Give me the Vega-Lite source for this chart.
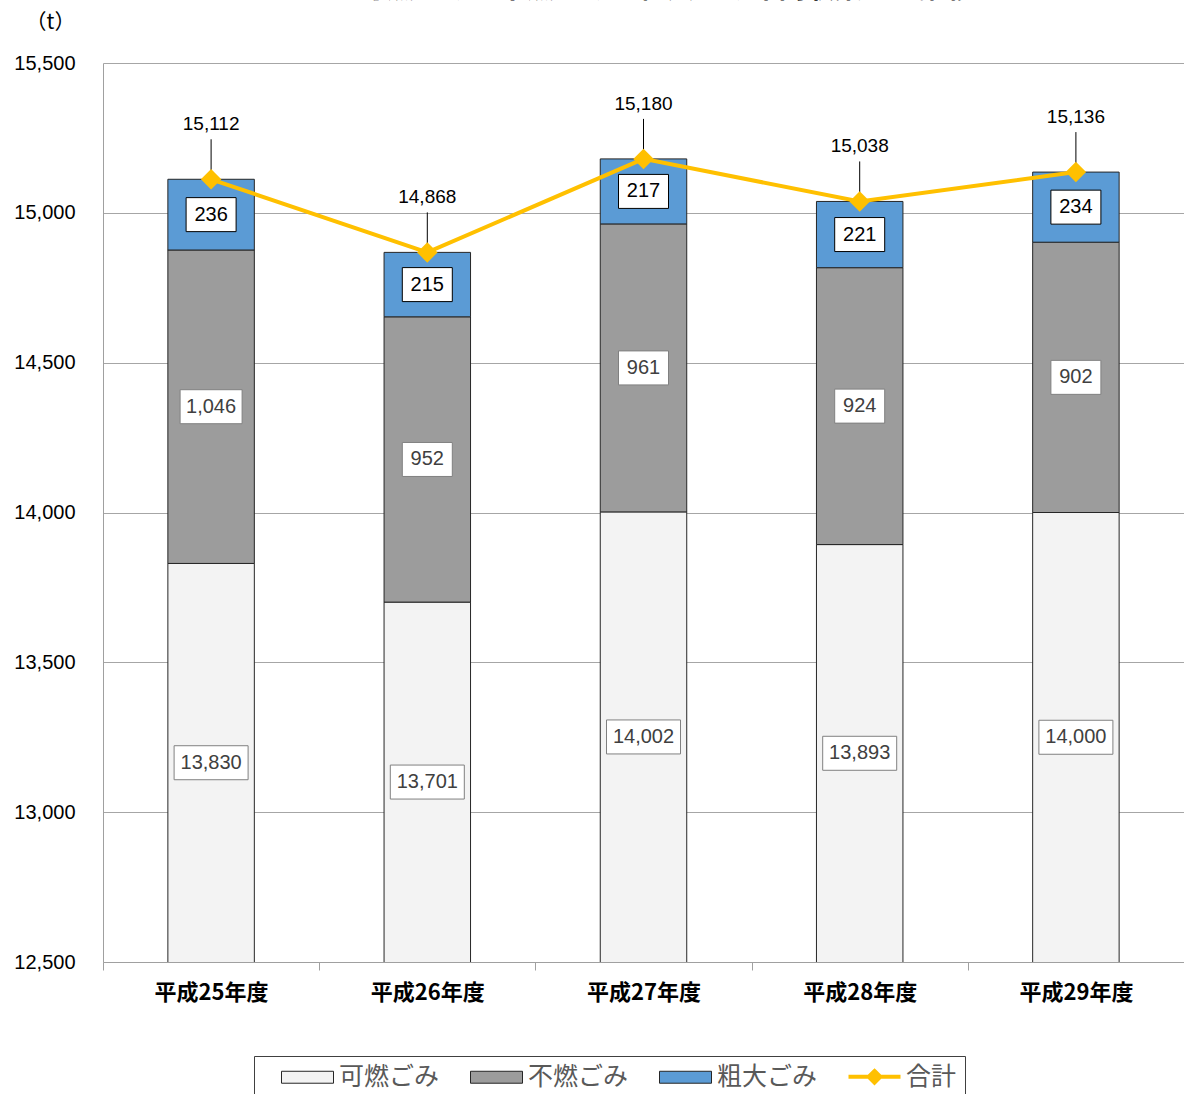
{
  "$schema": "https://vega.github.io/schema/vega-lite/v6.json",
  "width": 1081,
  "height": 899,
  "autosize": {"type": "none"},
  "padding": {"left": 103, "top": 63, "right": 0, "bottom": 132},
  "config": {"view": {"stroke": null}, "font": "Noto Sans CJK JP"},
  "title": {"text": "可燃ごみ・不燃ごみ・粗大ごみ年間収集量の推移", "fontSize": 28, "fontWeight": "bold", "color": "#000", "anchor": "middle", "frame": "group", "dx": 23, "offset": 7},
  "datasets": {
    "seg": [
      {"year": "平成25年度", "type": "可燃ごみ", "k": 1, "value": 13830},
      {"year": "平成25年度", "type": "不燃ごみ", "k": 2, "value": 1046},
      {"year": "平成25年度", "type": "粗大ごみ", "k": 3, "value": 236},
      {"year": "平成26年度", "type": "可燃ごみ", "k": 1, "value": 13701},
      {"year": "平成26年度", "type": "不燃ごみ", "k": 2, "value": 952},
      {"year": "平成26年度", "type": "粗大ごみ", "k": 3, "value": 215},
      {"year": "平成27年度", "type": "可燃ごみ", "k": 1, "value": 14002},
      {"year": "平成27年度", "type": "不燃ごみ", "k": 2, "value": 961},
      {"year": "平成27年度", "type": "粗大ごみ", "k": 3, "value": 217},
      {"year": "平成28年度", "type": "可燃ごみ", "k": 1, "value": 13893},
      {"year": "平成28年度", "type": "不燃ごみ", "k": 2, "value": 924},
      {"year": "平成28年度", "type": "粗大ごみ", "k": 3, "value": 221},
      {"year": "平成29年度", "type": "可燃ごみ", "k": 1, "value": 14000},
      {"year": "平成29年度", "type": "不燃ごみ", "k": 2, "value": 902},
      {"year": "平成29年度", "type": "粗大ごみ", "k": 3, "value": 234}
    ],
    "tot": [
      {"year": "平成25年度", "total": 15112},
      {"year": "平成26年度", "total": 14868},
      {"year": "平成27年度", "total": 15180},
      {"year": "平成28年度", "total": 15038},
      {"year": "平成29年度", "total": 15136}
    ]
  },
  "encoding": {
    "x": {
      "field": "year", "type": "nominal",
      "sort": ["平成25年度", "平成26年度", "平成27年度", "平成28年度", "平成29年度"],
      "scale": {"paddingInner": 0, "paddingOuter": 0},
      "axis": {"title": null, "labelAngle": 0, "labelFontSize": 22, "labelFontWeight": "bold", "labelColor": "#000", "labelPadding": 12, "tickBand": "extent", "tickColor": "#a0a0a0", "tickSize": 8, "domainColor": "#a0a0a0", "grid": false}
    }
  },
  "layer": [
    {
      "data": {"name": "seg"},
      "transform": [
        {"stack": "value", "groupby": ["year"], "sort": [{"field": "k", "order": "ascending"}], "as": ["v0", "v1"]},
        {"calculate": "(max(datum.v0, 12500) + datum.v1) / 2", "as": "mid"},
        {"calculate": "length(format(datum.value, ',')) <= 3 ? 'M-1.25,-0.85H1.25V0.85H-1.25Z' : (length(format(datum.value, ',')) <= 5 ? 'M-1.55,-0.85H1.55V0.85H-1.55Z' : 'M-1.85,-0.85H1.85V0.85H-1.85Z')", "as": "shp"}
      ],
      "layer": [
        {
          "mark": {"type": "bar", "width": {"band": 0.4}, "clip": true, "stroke": "#262626", "strokeWidth": 1},
          "encoding": {
            "y": {
              "field": "v0", "type": "quantitative",
              "scale": {"domain": [12500, 15500], "nice": false, "zero": false},
              "axis": {"title": "（t）", "titleAngle": 0, "titleX": -53, "titleY": -41, "titleAlign": "center", "titleBaseline": "middle", "titleFontSize": 21, "titleFontWeight": "normal", "titleColor": "#000", "values": [12500, 13000, 13500, 14000, 14500, 15000, 15500], "labelExpr": "format(datum.value, ',')", "labelFont": "Liberation Sans", "labelFontSize": 20, "labelColor": "#000", "labelPadding": 28, "ticks": false, "domainColor": "#a0a0a0", "gridColor": "#a6a6a6", "grid": true}
            },
            "y2": {"field": "v1"},
            "fill": {
              "field": "type", "type": "nominal",
              "scale": {"domain": ["可燃ごみ", "不燃ごみ", "粗大ごみ", "合計"], "range": ["#f3f3f3", "#9c9c9c", "#5b9bd5", "#ffc000"]},
              "legend": {
                "orient": "none", "legendX": 151, "legendY": 993, "direction": "horizontal", "columns": 4, "title": null,
                "strokeColor": "#404040", "fillColor": "#ffffff", "padding": 8, "cornerRadius": 0,
                "symbolType": "M-1,-0.46H3V0.46H-1Z", "symbolSize": 676, "symbolStrokeColor": "#262626", "symbolStrokeWidth": 1, "symbolOpacity": 1,
                "symbolOffset": 20,
                "labelFontSize": 25, "labelColor": "#595959", "labelOffset": 32, "columnPadding": 11, "gridAlign": "each",
                "encode": {
                  "symbols": {
                    "update": {
                      "shape": {"signal": "datum.value === '合計' ? 'M-1,0H3M1,-0.45L1.45,0L1,0.45L0.55,0Z' : 'M-1,-0.46H3V0.46H-1Z'"},
                      "stroke": {"signal": "datum.value === '合計' ? '#ffc000' : '#262626'"},
                      "strokeWidth": {"signal": "datum.value === '合計' ? 4 : 1"}
                    }
                  }
                }
              }
            }
          }
        },
        {
          "mark": {"type": "point", "fill": "#ffffff", "opacity": 1, "strokeWidth": 1},
          "encoding": {
            "y": {"field": "mid", "type": "quantitative"},
            "shape": {"field": "shp", "type": "nominal", "scale": null},
            "size": {"value": 1600},
            "stroke": {"condition": {"test": "datum.k === 3", "value": "#000000"}, "value": "#808080"}
          }
        },
        {
          "mark": {"type": "text", "fontSize": 20, "font": "Liberation Sans", "baseline": "middle"},
          "encoding": {
            "y": {"field": "mid", "type": "quantitative"},
            "text": {"field": "value", "type": "quantitative", "format": ","},
            "color": {"condition": {"test": "datum.k === 3", "value": "#000000"}, "value": "#404040"}
          }
        }
      ]
    },
    {
      "data": {"name": "tot"},
      "layer": [
        {
          "mark": {"type": "rule", "y2Offset": -40, "color": "#000", "strokeWidth": 1},
          "encoding": {"y": {"field": "total", "type": "quantitative"}, "y2": {"field": "total"}}
        },
        {
          "mark": {"type": "line", "color": "#ffc000", "strokeWidth": 4},
          "encoding": {"y": {"field": "total", "type": "quantitative"}}
        },
        {
          "mark": {"type": "point", "shape": "diamond", "filled": true, "color": "#ffc000", "size": 420, "opacity": 1},
          "encoding": {"y": {"field": "total", "type": "quantitative"}}
        },
        {
          "mark": {"type": "text", "dy": -55, "fontSize": 19, "font": "Liberation Sans", "baseline": "middle", "color": "#000"},
          "encoding": {"y": {"field": "total", "type": "quantitative"}, "text": {"field": "total", "type": "quantitative", "format": ","}}
        }
      ]
    }
  ]
}
